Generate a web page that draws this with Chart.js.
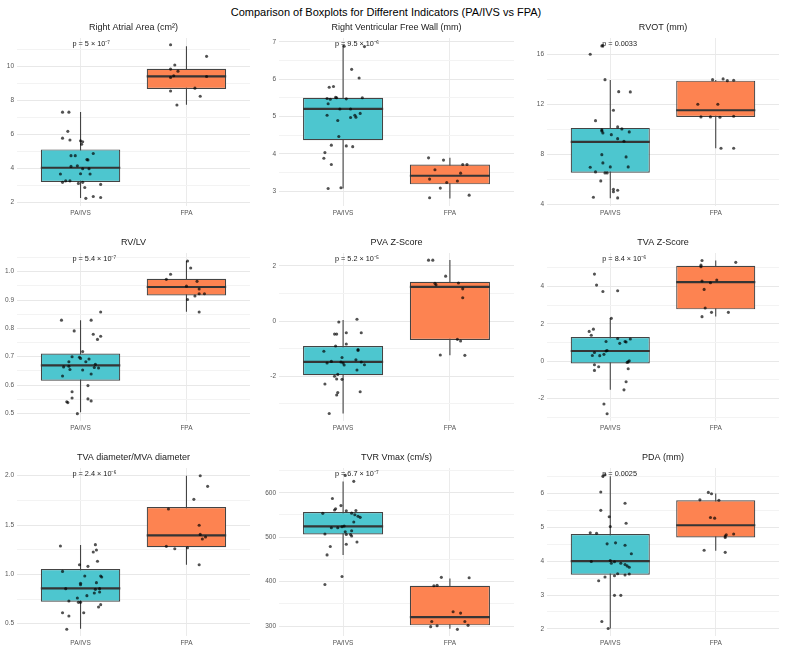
<!DOCTYPE html>
<html>
<head>
<meta charset="utf-8">
<script src="https://cdn.jsdelivr.net/npm/chart.js@4.4.1/dist/chart.umd.min.js"></script>
<style>
  html, body { margin: 0; padding: 0; background: #ffffff; }
  body { width: 785px; height: 653px; position: relative; overflow: hidden; font-family: "Liberation Sans", Arial, sans-serif; }
  #mainTitle { position: absolute; left: 0; top: 6px; width: 772px; text-align: center; font-size: 11px; line-height: 13px; color: #000; }
  canvas { position: absolute; }
</style>
</head>
<body>
<div id="mainTitle">Comparison of Boxplots for Different Indicators (PA/IVS vs FPA)</div>
<script>
// ---------------- DATA ----------------
const categories = ['PA/IVS', 'FPA'];
const panelTitles = ['Right Atrial Area (cm²)', 'Right Ventricular Free Wall (mm)', 'RVOT (mm)',
                     'RV/LV', 'PVA Z-Score', 'TVA Z-Score',
                     'TVA diameter/MVA diameter', 'TVR Vmax (cm/s)', 'PDA (mm)'];
const pLabels = ['p = 5 × 10⁻⁷', 'p = 9.5 × 10⁻⁶', 'p = 0.0033',
                 'p = 5.4 × 10⁻⁷', 'p = 5.2 × 10⁻⁵', 'p = 8.4 × 10⁻⁶',
                 'p = 2.4 × 10⁻⁶', 'p = 6.7 × 10⁻⁷', 'p = 0.0025'];

// box stats: [lower whisker, Q1, median, Q3, upper whisker]
// jitter: horizontal offset of each point from its category (category units)

// 1. Right Atrial Area
const raaPaValues = [7.29,7.29,6.16,5.76,5.65,5.60,5.55,5.40,4.73,4.73,4.86,4.50,4.48,4.10,4.14,3.96,3.96,3.65,3.67,3.65,3.16,3.25,3.25,3.10,3.16,3.04,2.86,2.22,2.33,2.27];
const raaPaJitter = [-0.17,-0.11,-0.12,-0.17,-0.10,0.00,0.02,0.01,-0.09,-0.05,0.12,0.06,0.07,-0.09,-0.03,0.02,0.08,-0.19,0.00,0.09,-0.17,-0.14,-0.10,-0.02,0.02,0.19,0.04,0.05,0.12,0.19];
const raaFpaValues = [11.25,10.57,10.06,9.82,9.70,9.43,9.33,9.39,8.70,8.53,8.22,7.71];
const raaFpaJitter = [-0.15,0.19,-0.11,-0.15,-0.08,-0.12,-0.15,0.19,0.08,-0.15,0.13,-0.09];
const raaPaBox = [2.24,3.18,4.02,5.10,7.30];
const raaFpaBox = [7.73,8.65,9.39,9.84,11.16];
const raaTicks = [2,4,6,8,10];
const raaTickLabels = ['2','4','6','8','10'];
const raaRange = [1.77, 11.65];

// 2. Right Ventricular Free Wall
const rvfwPaValues = [6.88,6.87,6.26,6.03,5.78,5.80,5.48,5.46,5.51,5.50,5.47,5.50,5.34,5.20,5.20,5.03,5.08,5.03,4.98,4.97,4.89,4.46,4.23,4.21,4.19,4.03,3.88,3.71,3.07,3.09];
const rvfwPaJitter = [0.01,0.20,0.08,0.15,-0.13,-0.09,-0.15,-0.12,-0.07,-0.06,0.03,0.18,-0.14,-0.03,0.07,-0.15,0.16,0.11,0.12,0.07,-0.05,-0.04,-0.11,0.03,0.09,-0.17,-0.18,-0.11,-0.14,-0.02];
const rvfwFpaValues = [3.89,3.83,3.57,3.71,3.71,3.48,3.32,3.23,3.27,3.08,2.89,2.82];
const rvfwFpaJitter = [-0.20,-0.06,-0.14,0.12,0.16,0.10,-0.19,-0.03,0.07,-0.09,0.18,-0.19];
const rvfwPaBox = [3.07,4.36,5.20,5.50,6.91];
const rvfwFpaBox = [2.80,3.18,3.41,3.71,3.89];
const rvfwTicks = [3,4,5,6,7];
const rvfwTickLabels = ['3','4','5','6','7'];
const rvfwRange = [2.6, 7.1];

// 3. RVOT
const rvotPaValues = [16.70,16.67,16.00,13.97,13.01,12.99,11.52,10.69,9.95,9.87,9.71,10.19,10.03,9.57,9.79,9.25,9.04,7.97,7.79,7.31,6.96,6.99,6.99,6.59,6.51,6.51,5.87,5.20,5.01,5.12,4.56,4.51];
const rvotPaJitter = [-0.07,-0.08,-0.19,-0.05,0.08,0.19,0.03,-0.14,-0.08,-0.08,-0.07,0.07,0.11,0.01,0.18,0.07,0.13,-0.08,0.15,-0.07,-0.19,0.00,0.17,-0.14,-0.05,-0.03,-0.09,0.03,0.03,0.07,-0.16,0.07];
const rvotFpaValues = [13.97,14.03,13.89,13.92,12.00,12.00,10.99,10.99,10.96,11.04,8.48,8.48];
const rvotFpaJitter = [-0.03,0.07,0.11,0.17,-0.17,0.02,-0.14,-0.05,0.04,0.17,0.05,0.17];
const rvotPaBox = [4.48,6.53,8.99,10.11,13.95];
const rvotFpaBox = [8.48,10.99,11.52,13.89,13.95];
const rvotTicks = [4,8,12,16];
const rvotTickLabels = ['4','8','12','16'];
const rvotRange = [3.86, 17.3];

// 4. RV/LV
const rvlvPaValues = [0.829,0.829,0.858,0.791,0.779,0.772,0.761,0.718,0.700,0.698,0.694,0.682,0.692,0.682,0.673,0.664,0.666,0.655,0.662,0.660,0.653,0.639,0.632,0.598,0.576,0.554,0.541,0.538,0.551,0.544,0.499];
const rvlvPaJitter = [-0.18,0.10,0.19,-0.06,0.12,0.19,0.16,0.02,-0.08,-0.01,0.00,-0.11,0.08,0.05,0.14,-0.16,-0.11,-0.10,0.13,0.17,0.02,0.10,-0.17,0.07,-0.08,-0.08,-0.13,-0.12,0.07,0.10,-0.03];
const rvlvFpaValues = [1.038,1.013,0.991,0.973,0.966,0.949,0.939,0.914,0.922,0.922,0.902,0.858];
const rvlvFpaJitter = [0.01,0.04,-0.15,-0.19,0.10,0.00,0.12,0.08,0.12,0.17,0.01,0.12];
const rvlvPaBox = [0.504,0.615,0.669,0.711,0.829];
const rvlvFpaBox = [0.859,0.916,0.946,0.975,1.038];
const rvlvTicks = [0.5,0.6,0.7,0.8,0.9,1.0];
const rvlvTickLabels = ['0.5','0.6','0.7','0.8','0.9','1.0'];
const rvlvRange = [0.473, 1.066];

// 5. PVA Z-Score
const pvaPaValues = [-0.03,0.07,-0.47,-0.47,-0.42,-0.42,-0.83,-0.90,-1.09,-1.03,-1.06,-1.32,-1.46,-1.52,-1.48,-1.52,-1.59,-1.40,-1.48,-1.58,-1.77,-1.93,-2.00,-2.10,-2.11,-2.28,-2.56,-2.59,-2.68,-3.35];
const pvaPaJitter = [-0.04,0.13,-0.08,-0.06,0.03,0.17,0.03,-0.07,-0.18,0.14,0.14,-0.01,-0.11,-0.15,-0.02,0.00,0.01,0.12,0.17,0.20,0.13,-0.05,-0.08,-0.06,-0.01,-0.17,0.16,-0.05,-0.06,-0.13];
const pvaFpaValues = [2.21,2.21,1.63,1.37,1.32,1.38,1.17,0.85,-0.66,-0.72,-1.23,-1.24];
const pvaFpaJitter = [-0.20,-0.16,-0.04,-0.14,-0.13,0.08,0.12,0.12,0.07,0.10,-0.09,0.14];
const pvaPaBox = [-3.35,-1.96,-1.48,-0.90,0.04];
const pvaFpaBox = [-1.24,-0.68,1.24,1.43,2.22];
const pvaTicks = [-2,0,2];
const pvaTickLabels = ['-2','0','2'];
const pvaRange = [-3.62, 2.47];

// 6. TVA Z-Score
const tvaPaValues = [4.66,4.07,3.73,3.77,2.29,1.59,1.71,1.38,1.21,1.18,1.05,0.95,1.05,1.02,0.57,0.54,0.46,0.30,0.29,0.36,0.02,-0.04,-0.07,-0.20,-0.30,-0.50,-0.41,-1.11,-1.54,-2.30,-2.82];
const tvaPaJitter = [-0.15,-0.13,-0.07,0.07,0.01,-0.20,-0.16,-0.18,0.07,0.19,-0.04,0.09,0.14,0.15,-0.03,-0.04,-0.15,-0.17,-0.10,-0.06,0.18,0.17,0.16,-0.15,-0.11,-0.15,0.17,0.15,0.13,-0.06,-0.03];
const tvaFpaValues = [5.39,5.14,5.05,5.29,4.29,4.20,4.34,3.84,2.84,2.61,2.61,2.38];
const tvaFpaJitter = [-0.13,-0.14,-0.14,0.19,-0.13,-0.05,0.01,-0.11,-0.10,-0.04,0.12,-0.13];
const tvaPaBox = [-1.54,-0.13,0.54,1.29,2.29];
const tvaFpaBox = [2.39,2.77,4.23,5.11,5.39];
const tvaTicks = [-2,0,2,4];
const tvaTickLabels = ['-2','0','2','4'];
const tvaRange = [-3.21, 5.79];

// 7. TVA diameter / MVA diameter
const ratioPaValues = [1.287,1.301,1.226,1.247,1.132,1.098,1.081,1.030,0.983,0.983,0.973,0.909,0.895,0.916,0.855,0.848,0.855,0.811,0.821,0.784,0.760,0.730,0.716,0.716,0.693,0.669,0.611,0.611,0.578,0.443];
const ratioPaJitter = [-0.19,0.14,0.12,0.15,0.16,-0.01,0.07,-0.17,0.04,0.19,0.20,0.00,0.00,0.15,-0.14,0.14,0.18,0.13,0.18,0.06,-0.03,-0.11,-0.02,0.00,0.19,0.17,-0.17,0.03,-0.11,-0.13];
const ratioFpaValues = [2.000,1.892,1.760,1.662,1.497,1.405,1.378,1.358,1.284,1.260,1.270,1.098];
const ratioFpaJitter = [0.13,0.20,0.07,-0.17,0.12,0.13,0.18,0.15,-0.19,-0.11,0.01,0.12];
const ratioPaBox = [0.449,0.723,0.858,1.054,1.297];
const ratioFpaBox = [1.098,1.274,1.395,1.682,2.000];
const ratioTicks = [0.5,1.0,1.5,2.0];
const ratioTickLabels = ['0.5','1.0','1.5','2.0'];
const ratioRange = [0.375, 2.078];

// 8. TVR Vmax
const tvrPaValues = [639,625.5,587,564,561,571,559.5,560,553.5,554,550.5,547,544.5,534,521,521,523.5,525,512,514.5,507,506,506,502.5,489,484,479,460,411.5,393.5];
const tvrPaJitter = [0.02,0.10,-0.10,-0.07,-0.08,-0.02,0.03,0.12,-0.19,0.08,0.11,0.14,0.16,0.10,-0.11,-0.05,-0.01,0.01,0.02,0.08,-0.17,0.03,0.07,0.08,0.13,0.03,-0.12,-0.15,-0.01,-0.17];
const tvrFpaValues = [409.5,408.5,390.5,391.5,332,329,310,310,300.5,301.5,298.5,292.5];
const tvrFpaJitter = [-0.08,0.18,-0.15,-0.12,0.03,0.10,-0.17,0.14,-0.12,0.17,-0.18,0.07];
const tvrPaBox = [460,506,524,556.5,625];
const tvrFpaBox = [294,301.5,320,390.7,407];
const tvrTicks = [300,400,500,600];
const tvrTickLabels = ['300','400','500','600'];
const tvrRange = [277.5, 655.6];

// 9. PDA
const pdaPaValues = [6.51,6.55,6.04,5.71,5.50,5.31,5.12,5.02,4.84,4.82,4.51,4.54,4.47,4.22,3.99,4.02,3.94,3.98,3.94,3.90,3.86,3.82,3.63,3.57,3.59,3.62,3.53,3.42,2.99,2.99,2.22,2.01];
const pdaPaJitter = [-0.07,-0.05,-0.09,0.14,-0.09,-0.01,0.15,0.00,-0.19,-0.13,-0.03,0.05,0.14,0.20,-0.18,0.00,0.01,0.04,0.10,0.14,0.16,0.18,0.07,0.04,0.14,0.18,-0.05,-0.11,0.04,0.10,-0.08,-0.02];
const pdaFpaValues = [6.03,5.99,5.81,5.80,5.29,5.27,4.80,4.78,4.70,4.74,4.32,4.26];
const pdaFpaJitter = [-0.07,-0.04,-0.15,0.03,-0.05,-0.01,0.17,0.10,0.09,0.09,-0.11,0.09];
const pdaPaBox = [2.01,3.60,4.00,4.80,6.51];
const pdaFpaBox = [4.31,4.70,5.06,5.80,6.00];
const pdaTicks = [2,3,4,5,6];
const pdaTickLabels = ['2','3','4','5','6'];
const pdaRange = [1.79, 6.75];

// ---------------- TABLE BUILT FROM THE ARRAYS ----------------
const panels = [
  [raaPaValues, raaPaJitter, raaFpaValues, raaFpaJitter, raaPaBox, raaFpaBox, raaTicks, raaTickLabels, raaRange],
  [rvfwPaValues, rvfwPaJitter, rvfwFpaValues, rvfwFpaJitter, rvfwPaBox, rvfwFpaBox, rvfwTicks, rvfwTickLabels, rvfwRange],
  [rvotPaValues, rvotPaJitter, rvotFpaValues, rvotFpaJitter, rvotPaBox, rvotFpaBox, rvotTicks, rvotTickLabels, rvotRange],
  [rvlvPaValues, rvlvPaJitter, rvlvFpaValues, rvlvFpaJitter, rvlvPaBox, rvlvFpaBox, rvlvTicks, rvlvTickLabels, rvlvRange],
  [pvaPaValues, pvaPaJitter, pvaFpaValues, pvaFpaJitter, pvaPaBox, pvaFpaBox, pvaTicks, pvaTickLabels, pvaRange],
  [tvaPaValues, tvaPaJitter, tvaFpaValues, tvaFpaJitter, tvaPaBox, tvaFpaBox, tvaTicks, tvaTickLabels, tvaRange],
  [ratioPaValues, ratioPaJitter, ratioFpaValues, ratioFpaJitter, ratioPaBox, ratioFpaBox, ratioTicks, ratioTickLabels, ratioRange],
  [tvrPaValues, tvrPaJitter, tvrFpaValues, tvrFpaJitter, tvrPaBox, tvrFpaBox, tvrTicks, tvrTickLabels, tvrRange],
  [pdaPaValues, pdaPaJitter, pdaFpaValues, pdaFpaJitter, pdaPaBox, pdaFpaBox, pdaTicks, pdaTickLabels, pdaRange]
].map((a, i) => ({
  title: panelTitles[i], p: pLabels[i],
  paValues: a[0], paJitter: a[1], fpaValues: a[2], fpaJitter: a[3],
  paBox: a[4], fpaBox: a[5], ticks: a[6], tickLabels: a[7], range: a[8]
}));

// ---------------- LAYOUT / STYLE ----------------
const FONT = '"Liberation Sans", Arial, Helvetica, sans-serif';
Chart.defaults.font.family = FONT;
const colLeft = [17, 279, 547];
const colRight = [250, 514, 779];
const rowTop = [38, 253, 468];
const plotH = 168;
const PT = 26, XH = 16, PR = 3;
const HALF_BOX = 0.375;
const paFill = '#4dc6cf', fpaFill = '#fd8351';
const lineCol = '#353535';

const textPlugin = {
  id: 'panelText',
  afterDatasetsDraw(chart, args, opts) {
    const ctx = chart.ctx, a = chart.chartArea, xs = chart.scales.x;
    ctx.save();
    ctx.fillStyle = '#1a1a1a';
    ctx.textBaseline = 'middle';
    ctx.font = '9px ' + FONT;
    ctx.textAlign = 'center';
    ctx.fillText(opts.title, (a.left + a.right) / 2, a.top - 10);
    ctx.font = '7.3px ' + FONT;
    ctx.textAlign = 'left';
    ctx.fillText(opts.p, xs.getPixelForValue(0.924), a.top + 5.5);
    ctx.restore();
  }
};

panels.forEach((p, i) => {
  const col = i % 3, row = Math.floor(i / 3);
  const ax = Math.min(26, colLeft[col]);
  const w = colRight[col] - colLeft[col] + ax + PR;
  const h = PT + plotH + XH;
  const cv = document.createElement('canvas');
  cv.width = w; cv.height = h;
  cv.style.width = w + 'px'; cv.style.height = h + 'px';
  cv.style.left = (colLeft[col] - ax) + 'px';
  cv.style.top = (rowTop[row] - PT) + 'px';
  document.body.appendChild(cv);

  // grid values: major ticks plus minor lines half way between them
  const step = p.ticks[1] - p.ticks[0];
  const gridVals = [];
  for (let v = p.ticks[0] - step / 2; v <= p.range[1] + 1e-9; v += step / 2) {
    if (v >= p.range[0] - 1e-9) gridVals.push(+v.toFixed(6));
  }
  const isMajor = v => p.ticks.some(t => Math.abs(t - v) < 1e-6);

  const points = [];
  p.paValues.forEach((v, k) => points.push({ x: 1 + p.paJitter[k], y: v }));
  p.fpaValues.forEach((v, k) => points.push({ x: 2 + p.fpaJitter[k], y: v }));
  const boxes = [p.paBox, p.fpaBox];

  new Chart(cv, {
    type: 'scatter',
    data: {
      datasets: [
        { type: 'scatter', data: points, backgroundColor: 'rgba(0,0,0,0.68)', borderWidth: 0,
          pointRadius: 1.55, pointHoverRadius: 1.55, order: 0 },
        { type: 'line', showLine: true, fill: false, spanGaps: false, pointRadius: 0,
          borderColor: lineCol, borderWidth: 2.2, order: 1,
          data: [{ x: 1 - HALF_BOX, y: boxes[0][2] }, { x: 1 + HALF_BOX, y: boxes[0][2] }, { x: 1.5, y: null },
                 { x: 2 - HALF_BOX, y: boxes[1][2] }, { x: 2 + HALF_BOX, y: boxes[1][2] }] },
        { type: 'bar', grouped: false, categoryPercentage: 1, barPercentage: 0.75, borderSkipped: false,
          backgroundColor: [paFill, fpaFill], borderColor: '#444444', borderWidth: 1.2, order: 2,
          data: [{ x: 1, y: [boxes[0][1], boxes[0][3]] }, { x: 2, y: [boxes[1][1], boxes[1][3]] }] },
        { type: 'line', showLine: true, fill: false, spanGaps: false, pointRadius: 0,
          borderColor: '#444444', borderWidth: 1.1, order: 3,
          data: [{ x: 1, y: boxes[0][0] }, { x: 1, y: boxes[0][4] }, { x: 1.5, y: null },
                 { x: 2, y: boxes[1][0] }, { x: 2, y: boxes[1][4] }] }
      ]
    },
    options: {
      responsive: false, maintainAspectRatio: false, animation: false, devicePixelRatio: 1,
      events: [],
      layout: { padding: { top: PT, left: 0, right: PR, bottom: 0 } },
      plugins: { legend: { display: false }, tooltip: { enabled: false }, title: { display: false },
                 panelText: { title: p.title, p: p.p } },
      scales: {
        x: {
          type: 'linear', min: 0.4, max: 2.6, offset: false,
          afterFit: s => { s.height = XH; },
          afterBuildTicks: s => { s.ticks = [{ value: 1 }, { value: 2 }]; },
          ticks: { autoSkip: false, maxRotation: 0, padding: 3, color: '#555', font: { size: 6.5 },
                   callback: v => categories[Math.round(v) - 1] },
          grid: { offset: false, color: '#ebebeb', lineWidth: 1, drawTicks: false },
          border: { display: false }
        },
        y: {
          type: 'linear', min: p.range[0], max: p.range[1], beginAtZero: false,
          afterFit: s => { s.width = ax; },
          afterBuildTicks: s => { s.ticks = gridVals.map(v => ({ value: v })); },
          ticks: { autoSkip: false, padding: 3, color: '#555', font: { size: 6.5 },
                   callback: v => { const k = p.ticks.findIndex(t => Math.abs(t - v) < 1e-6); return k >= 0 ? p.tickLabels[k] : ''; } },
          grid: { drawTicks: false, lineWidth: 1,
                  color: c => (c.tick && isMajor(c.tick.value)) ? '#e8e8e8' : '#f3f3f3' },
          border: { display: false }
        }
      }
    },
    plugins: [textPlugin]
  });
});
</script>
</body>
</html>
